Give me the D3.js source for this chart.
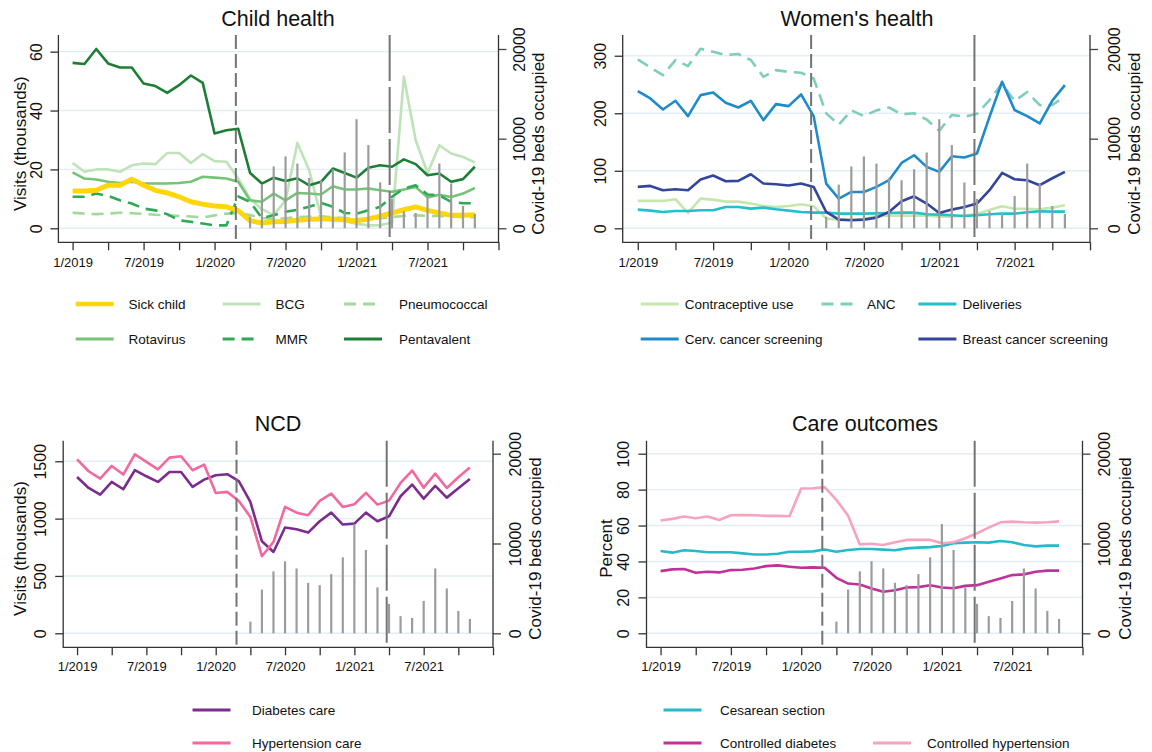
<!DOCTYPE html>
<html>
<head>
<meta charset="utf-8">
<script src="https://cdn.jsdelivr.net/npm/d3@7"></script>
<style>
body { margin: 0; background: #fff; }
svg text { font-family: 'Liberation Sans', Arial, Helvetica, sans-serif; fill: #111; }
</style>
</head>
<body>
<div class="container"></div>
<script>
const WIDTH = 1152;
const HEIGHT = 752;

// months of the series, Jan 2019 .. Nov 2021 (index = position on the x axis)
const months = ["1/2019","2/2019","3/2019","4/2019","5/2019","6/2019","7/2019","8/2019","9/2019","10/2019","11/2019","12/2019",
  "1/2020","2/2020","3/2020","4/2020","5/2020","6/2020","7/2020","8/2020","9/2020","10/2020","11/2020","12/2020",
  "1/2021","2/2021","3/2021","4/2021","5/2021","6/2021","7/2021","8/2021","9/2021","10/2021","11/2021"];
const xTickMonths = [0,3,6,9,12,15,18,21,24,27,30,33,36];
const xTickLabels = {0:"1/2019", 6:"7/2019", 12:"1/2020", 18:"7/2020", 24:"1/2021", 30:"7/2021"};
const eventMonths = [13.8, 26.8];

// Covid-19 beds occupied, Apr 2020 .. Nov 2021
const bedMonths = ["4/2020","5/2020","6/2020","7/2020","8/2020","9/2020","10/2020","11/2020","12/2020",
  "1/2021","2/2021","3/2021","4/2021","5/2021","6/2021","7/2021","8/2021","9/2021","10/2021","11/2021"];
const bedValues = [1300,4870,6900,8020,7220,5620,5360,6590,8460,12170,9280,5120,3280,1910,1710,3600,7220,4990,2490,1600];
const bedTicks = [0,10000,20000];

// Child health (thousands)
const sickChild = [12.7,12.7,12.9,14.6,14.6,16.7,14.6,12.9,12.0,10.7,9.0,8.2,7.6,7.3,6.0,2.6,1.8,2.2,2.3,2.7,3.1,3.2,3.2,2.9,2.5,3.2,4.1,5.2,6.3,7.3,6.1,5.2,4.4,4.4,4.6];
const bcg = [22.2,19.2,20.0,20.0,19.2,21.4,22.0,21.8,25.6,25.6,22.2,25.2,22.8,22.6,16.9,10.0,6.5,4.5,9.5,29.0,19.7,4.0,2.5,2.5,1.5,1.0,1.0,2.0,51.5,29.9,18.8,28.2,25.4,24.2,22.4];
const pneumococcal = [5.3,5.0,4.8,5.0,5.3,5.1,4.9,4.6,4.4,4.2,4.0,3.7,4.4,5.0,5.2,4.5,3.5,3.2,3.4,3.8,4.0,4.1,3.8,3.5,3.2,3.0,3.4,3.8,4.2,4.4,4.2,4.2,4.0,3.8,3.8];
const rotavirus = [19.0,16.9,16.6,15.8,15.4,15.8,15.2,15.2,15.2,15.4,15.8,17.5,17.2,16.9,15.8,9.5,9.0,11.8,9.5,12.0,11.8,11.5,14.3,13.2,13.2,13.5,12.9,12.4,13.2,14.0,10.5,11.4,10.6,11.8,13.7];
const mmr = [10.7,10.7,11.8,11.0,9.5,8.4,6.7,6.1,4.8,2.7,2.2,1.6,1.0,1.0,10.8,9.0,3.5,4.4,5.6,6.3,7.3,8.6,7.3,5.2,5.0,6.1,7.3,10.7,13.5,14.6,11.5,11.2,9.0,8.5,8.5];
const pentavalent = [56.2,55.8,60.9,56.0,54.6,54.6,49.2,48.3,46.0,48.6,51.9,49.4,32.2,33.3,33.8,18.8,15.2,17.2,16.1,17.0,14.6,15.8,20.3,18.8,17.2,20.6,21.4,20.9,23.4,21.8,18.0,18.6,15.8,16.7,20.9];

// Women's health (thousands)
const contraceptive = [47.6,47.6,47.6,50.5,26.7,51.6,49.9,46.4,46.4,43.0,38.9,37.1,38.9,41.8,38.3,16.8,15.1,15.0,16.0,20.9,22.0,22.0,22.0,22.0,20.0,20.0,22.0,25.0,32.0,38.3,34.0,34.0,33.0,36.0,40.0];
const anc = [293.6,279.7,266.4,292.5,282.0,312.0,307.0,301.0,303.0,292.5,263.4,275.0,272.0,270.4,260.5,199.8,180.0,205.0,195.0,205.0,210.0,198.0,200.0,189.0,169.5,197.0,194.0,199.0,223.0,251.5,221.0,237.0,214.0,214.3,228.8];
const deliveries = [32.5,30.8,28.4,30.2,30.2,31.3,31.3,37.1,37.1,34.2,36.0,33.0,30.8,28.4,27.3,27.3,25.5,25.5,25.5,26.0,26.7,27.3,27.3,24.4,23.8,22.6,21.5,22.6,24.4,25.5,25.5,27.9,29.6,29.0,29.0];
const cervical = [238.5,225.7,206.6,221.7,195.0,231.5,236.2,218.2,210.0,221.7,188.0,215.9,212.4,232.7,195.0,77.8,51.6,63.2,63.2,72.0,83.6,113.7,127.0,106.8,98.1,125.3,123.0,130.0,193.8,254.7,205.4,195.0,182.2,222.0,249.0];
const breast = [72.0,73.7,66.2,67.9,66.2,84.7,91.7,81.8,82.4,94.0,77.8,76.6,74.3,77.8,72.0,28.4,15.1,13.9,15.1,18.6,28.4,47.0,55.7,43.0,26.7,32.5,37.1,43.0,66.2,96.3,85.3,83.6,74.9,87.0,98.0];

// NCD (thousands)
const diabetesCare = [1363,1267,1209,1320,1256,1422,1369,1320,1407,1407,1276,1340,1378,1387,1326,1145,802,709,922,907,878,977,1052,948,956,1052,977,1020,1195,1297,1174,1285,1183,1265,1346];
const hypertensionCare = [1517,1413,1349,1459,1384,1561,1494,1430,1532,1544,1422,1471,1224,1233,1154,1015,672,797,1102,1052,1029,1154,1218,1102,1125,1224,1122,1157,1311,1419,1270,1392,1267,1360,1445];

// Care outcomes (percent)
const cesarean = [45.8,44.9,46.2,45.8,45.1,45.1,45.1,44.5,43.9,43.9,44.3,45.4,45.4,45.6,46.7,45.4,46.4,46.9,46.9,46.6,46.2,47.3,47.7,48.0,48.6,50.1,50.5,50.7,50.5,51.4,50.7,49.2,48.4,48.8,48.8];
const ctrlDiabetes = [34.6,35.6,35.8,33.7,34.3,33.9,35.2,35.4,36.1,37.4,37.8,37.1,36.5,36.7,36.5,30.9,27.7,27.2,25.0,23.1,24.0,25.5,25.7,26.8,25.5,25.1,26.4,26.8,28.7,30.5,32.4,32.8,34.3,34.9,34.9];
const ctrlHypertension = [62.8,63.7,65.0,64.1,65.0,63.1,65.7,65.9,65.7,65.4,65.4,65.2,80.6,80.8,81.4,74.3,65.5,49.5,49.9,49.2,50.7,52.0,52.0,52.0,50.1,50.7,52.9,55.7,58.8,61.8,62.2,61.8,61.6,61.8,62.3];

var translate = function(x, y){
	return "translate("+x+","+y+")";
};

var panels = [
	{
		title: "Child health", yTitle: "Visits (thousands)", yMax: 60.9, yTicks: [0,20,40,60],
		left: 58.4, right: 498.5, top: 35, bottom: 242.3, zero: 228.3, peak: 49,
		titleX: 278, titleY: 26, yLabelX: 36, yTitleX: 20, rLabelX: 519, rTitleX: 538, xLabelY: 262,
		series: [
			{name: "BCG", values: bcg, color: "#bfe3b8", width: 2.6},
			{name: "Pneumococcal", values: pneumococcal, color: "#a3d89b", width: 2.6, dash: "12,7"},
			{name: "Rotavirus", values: rotavirus, color: "#74c476", width: 2.6},
			{name: "MMR", values: mmr, color: "#2eaa55", width: 2.6, dash: "12,7"},
			{name: "Pentavalent", values: pentavalent, color: "#1d7f36", width: 2.6},
			{name: "Sick child", values: sickChild, color: "#ffd60a", width: 5}
		],
		legend: [
			{name: "Sick child", sx: 75.7, tx: 128.6, y: 304},
			{name: "BCG", sx: 222.6, tx: 275.5, y: 304},
			{name: "Pneumococcal", sx: 344, tx: 399, y: 304},
			{name: "Rotavirus", sx: 75.7, tx: 128.6, y: 339},
			{name: "MMR", sx: 222.6, tx: 275.5, y: 339},
			{name: "Pentavalent", sx: 344, tx: 399, y: 339}
		]
	},
	{
		title: "Women's health", yTitle: null, yMax: 311.7, yTicks: [0,100,200,300],
		left: 622.7, right: 1090, top: 35, bottom: 242.3, zero: 228.3, peak: 49,
		titleX: 857, titleY: 26, yLabelX: 600.5, yTitleX: null, rLabelX: 1114, rTitleX: 1134, xLabelY: 262,
		series: [
			{name: "Contraceptive use", values: contraceptive, color: "#c5e6ac", width: 2.6},
			{name: "ANC", values: anc, color: "#7fcdbb", width: 2.6, dash: "12,7"},
			{name: "Deliveries", values: deliveries, color: "#22bfcf", width: 2.6},
			{name: "Cerv. cancer screening", values: cervical, color: "#1f8bcb", width: 2.6},
			{name: "Breast cancer screening", values: breast, color: "#33469c", width: 2.6}
		],
		legend: [
			{name: "Contraceptive use", sx: 640.7, tx: 684.8, y: 304},
			{name: "ANC", sx: 821.5, tx: 867, y: 304},
			{name: "Deliveries", sx: 918.4, tx: 962.5, y: 304},
			{name: "Cerv. cancer screening", sx: 640.7, tx: 684.8, y: 339},
			{name: "Breast cancer screening", sx: 918.4, tx: 962.5, y: 339}
		]
	},
	{
		title: "NCD", yTitle: "Visits (thousands)", yMax: 1566, yTicks: [0,500,1000,1500],
		left: 63.2, right: 493, top: 440.7, bottom: 647.3, zero: 633.3, peak: 453.7,
		titleX: 278, titleY: 431, yLabelX: 40.5, yTitleX: 20.5, rLabelX: 515.5, rTitleX: 535.5, xLabelY: 666,
		series: [
			{name: "Diabetes care", values: diabetesCare, color: "#7b2d8f", width: 2.6},
			{name: "Hypertension care", values: hypertensionCare, color: "#f2699f", width: 2.6}
		],
		legend: [
			{name: "Diabetes care", sx: 192.5, tx: 252, y: 710},
			{name: "Hypertension care", sx: 192.5, tx: 252, y: 743}
		]
	},
	{
		title: "Care outcomes", yTitle: "Percent", yMax: 100, yTicks: [0,20,40,60,80,100],
		left: 646.5, right: 1082.5, top: 440.7, bottom: 647.3, zero: 633.3, peak: 453.7,
		titleX: 865, titleY: 431, yLabelX: 623, yTitleX: 606, rLabelX: 1104, rTitleX: 1125, xLabelY: 666,
		series: [
			{name: "Cesarean section", values: cesarean, color: "#26b9ca", width: 2.6},
			{name: "Controlled diabetes", values: ctrlDiabetes, color: "#c2309b", width: 2.6},
			{name: "Controlled hypertension", values: ctrlHypertension, color: "#f6a3c2", width: 2.6}
		],
		legend: [
			{name: "Cesarean section", sx: 663.5, tx: 720, y: 710},
			{name: "Controlled diabetes", sx: 663.5, tx: 720, y: 743},
			{name: "Controlled hypertension", sx: 873, tx: 927, y: 743}
		]
	}
];

var _svg;
var plainNumber = d3.format("d");

var drawPanel = function(p){
	var g = _svg.append('g');

	var xScale = d3.scaleLinear().domain([-1.2, 36]).range([p.left, p.right]);
	var yScale = d3.scaleLinear().domain([0, p.yMax]).range([p.zero, p.peak]);
	var bedScale = d3.scaleLinear().domain([0, 20000]).range([p.zero, p.peak]);

	// grid
	g.selectAll('.grid').data(p.yTicks).enter().append('line')
		.attr('x1', p.left).attr('x2', p.right)
		.attr('y1', function(d){ return yScale(d); })
		.attr('y2', function(d){ return yScale(d); })
		.attr('stroke', '#e2eef3').attr('stroke-width', 1.4);

	// series
	var line = d3.line()
		.x(function(d, i){ return xScale(i); })
		.y(function(d){ return yScale(d); });

	p.series.forEach(function(s){
		g.append('path')
			.attr('d', line(s.values))
			.attr('fill', 'none')
			.attr('stroke', s.color)
			.attr('stroke-width', s.width)
			.attr('stroke-linejoin', 'round')
			.attr('stroke-dasharray', s.dash || null);
	});

	// covid beds spikes
	g.selectAll('.bed').data(bedValues).enter().append('line')
		.attr('x1', function(d, i){ return xScale(months.indexOf(bedMonths[i])); })
		.attr('x2', function(d, i){ return xScale(months.indexOf(bedMonths[i])); })
		.attr('y1', bedScale(0))
		.attr('y2', function(d){ return bedScale(d); })
		.attr('stroke', '#9c9c9c').attr('stroke-width', 2.2);

	// event lines
	g.selectAll('.event').data(eventMonths).enter().append('line')
		.attr('x1', function(d){ return xScale(d); })
		.attr('x2', function(d){ return xScale(d); })
		.attr('y1', p.top).attr('y2', p.bottom)
		.attr('stroke', '#747474').attr('stroke-width', 2)
		.attr('stroke-dasharray', function(d, i){ return i === 0 ? "14,5" : "46,6"; });

	// axes
	var xAxis = d3.axisBottom(xScale).tickValues(xTickMonths).tickSize(8)
		.tickFormat(function(d){ return xTickLabels[d] || ""; });
	var gx = g.append('g').attr('transform', translate(0, p.bottom)).call(xAxis);
	gx.select('.domain').remove();
	gx.selectAll('.tick line').attr('stroke', '#333').attr('stroke-width', 1.3);
	gx.selectAll('.tick text').attr('y', null).attr('dy', null)
		.attr('transform', translate(0, p.xLabelY - p.bottom + 4.5))
		.style('font-size', '13px').style('fill', '#111');

	var yAxis = d3.axisLeft(yScale).tickValues(p.yTicks).tickSize(8).tickFormat(plainNumber);
	var gy = g.append('g').attr('transform', translate(p.left, 0)).call(yAxis);
	gy.select('.domain').remove();
	gy.selectAll('.tick line').attr('stroke', '#333').attr('stroke-width', 1.3);
	gy.selectAll('.tick text').attr('x', null).attr('dy', '0.35em')
		.attr('text-anchor', 'middle')
		.attr('transform', translate(p.yLabelX - p.left, 0) + " rotate(-90)")
		.style('font-size', '16px').style('fill', '#111');

	var rAxis = d3.axisRight(bedScale).tickValues(bedTicks).tickSize(8).tickFormat(plainNumber);
	var gr = g.append('g').attr('transform', translate(p.right, 0)).call(rAxis);
	gr.select('.domain').remove();
	gr.selectAll('.tick line').attr('stroke', '#444').attr('stroke-width', 1.3);
	gr.selectAll('.tick text').attr('x', null).attr('dy', '0.35em')
		.attr('text-anchor', 'middle')
		.attr('transform', translate(p.rLabelX - p.right, 0) + " rotate(-90)")
		.style('font-size', '16px').style('fill', '#111');

	// axis lines
	g.append('path')
		.attr('d', "M"+p.left+","+p.top+"V"+p.bottom+"H"+p.right+"V"+p.top)
		.attr('fill', 'none').attr('stroke', '#333').attr('stroke-width', 1.3);

	// titles
	g.append('text').attr('x', p.titleX).attr('y', p.titleY)
		.attr('text-anchor', 'middle').style('font-size', '21.5px').text(p.title);

	var midY = (p.zero + p.peak) / 2 + 5;
	if (p.yTitle) {
		g.append('text').attr('transform', translate(p.yTitleX, midY) + " rotate(-90)")
			.attr('text-anchor', 'middle').attr('dy', '0.35em')
			.style('font-size', '17px').text(p.yTitle);
	}
	g.append('text').attr('transform', translate(p.rTitleX, midY) + " rotate(-90)")
		.attr('text-anchor', 'middle').attr('dy', '0.35em')
		.style('font-size', '17px').text("Covid-19 beds occupied");

	// legend
	p.legend.forEach(function(item){
		var s = p.series.filter(function(q){ return q.name === item.name; })[0];
		g.append('line')
			.attr('x1', item.sx).attr('x2', item.sx + 38)
			.attr('y1', item.y).attr('y2', item.y)
			.attr('stroke', s.color)
			.attr('stroke-width', s.width > 3 ? 4.5 : 3)
			.attr('stroke-dasharray', s.dash || null);
		g.append('text').attr('x', item.tx).attr('y', item.y).attr('dy', '0.35em')
			.style('font-size', '13.5px').text(item.name);
	});
};

var generateChart = function(){
	_svg = d3.select('.container').append('svg')
		.attr('width', WIDTH)
		.attr('height', HEIGHT);

	_svg.append('rect').attr('width', WIDTH).attr('height', HEIGHT).attr('fill', '#fff');

	panels.forEach(drawPanel);
};

generateChart();
</script>
</body>
</html>
